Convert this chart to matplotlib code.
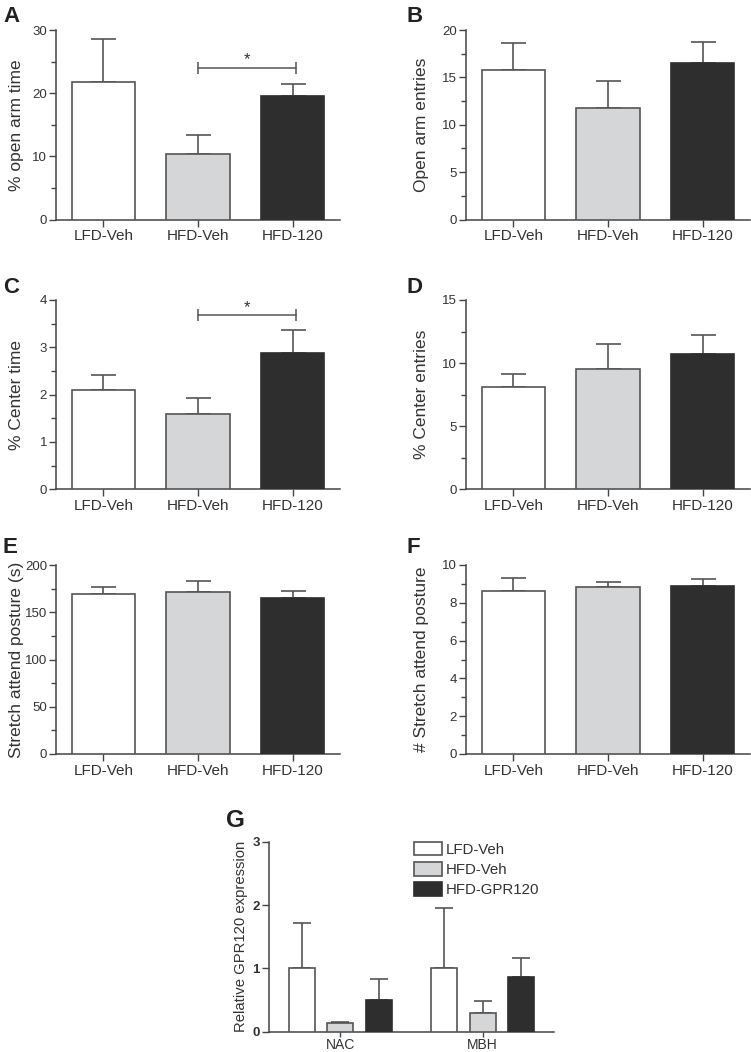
import matplotlib
matplotlib.use('Agg')
import matplotlib.pyplot as plt
from matplotlib.ticker import MultipleLocator
import numpy as np

plt.rcParams['font.family'] = ['Liberation Sans', 'DejaVu Sans']

# ---------------- data ----------------
groups = ['LFD-Veh', 'HFD-Veh', 'HFD-120']

a_mean = [21.8, 10.3, 19.5]
a_err = [6.8, 3.1, 1.9]

b_mean = [15.8, 11.8, 16.5]
b_err = [2.8, 2.8, 2.2]

c_mean = [2.10, 1.60, 2.88]
c_err = [0.32, 0.32, 0.49]

d_mean = [8.1, 9.5, 10.7]
d_err = [1.0, 2.0, 1.5]

e_mean = [169, 171, 165]
e_err = [8, 12, 8]

f_mean = [8.60, 8.83, 8.87]
f_err = [0.73, 0.29, 0.38]

g_regions = ['NAC', 'MBH']
g_series = ['LFD-Veh', 'HFD-Veh', 'HFD-GPR120']
g_lfd = [1.00, 1.00]
g_lfd_err = [0.72, 0.95]
g_hfd = [0.13, 0.30]
g_hfd_err = [0.02, 0.19]
g_gpr = [0.50, 0.87]
g_gpr_err = [0.34, 0.30]

# ---------------- style ----------------
W, H = 751, 1052
fills = ['#ffffff', '#d5d6d8', '#2e2e2e']
edges = ['#555555', '#555555', '#2e2e2e']
txt = '#333333'
spine_c = '#444444'
err_c = '#555555'

fig = plt.figure(figsize=(W / 100, H / 100), dpi=100)


def box(left, right, top, bottom):
    return [left / W, 1 - bottom / H, (right - left) / W, (bottom - top) / H]


def style_axes(ax, xlabsize=11, ylabsize=9.5, xlen=5, xpad=2):
    for s in ['top', 'right']:
        ax.spines[s].set_visible(False)
    for s in ['left', 'bottom']:
        ax.spines[s].set_color(spine_c)
        ax.spines[s].set_linewidth(1.1)
    ax.tick_params(axis='y', which='major', direction='out', length=5,
                   width=1.0, color=spine_c, labelcolor=txt, pad=1.5,
                   labelsize=ylabsize)
    ax.tick_params(axis='x', which='major', direction='out', length=xlen,
                   width=1.0, color=spine_c, labelcolor=txt, pad=xpad,
                   labelsize=xlabsize)
    ax.tick_params(axis='y', which='minor', direction='out', length=3.5,
                   width=1.0, color=spine_c)


def bar_panel(rect, means, errs, ymax, major, minor, ylabel, letter,
              letter_xy, label_x, sig=None):
    ax = fig.add_axes(rect)
    x = np.arange(len(groups))
    ax.bar(x, means, width=0.67, color=fills, edgecolor=edges,
           linewidth=1.2, zorder=3)
    ax.errorbar(x, means, yerr=[[0] * len(errs), errs], fmt='none',
                ecolor=err_c, elinewidth=1.2, capsize=9, capthick=1.2,
                zorder=2)
    ax.set_xlim(-0.5, 2.5)
    ax.set_ylim(0, ymax)
    ax.set_xticks(x)
    ax.set_xticklabels(groups)
    ax.yaxis.set_major_locator(MultipleLocator(major))
    ax.yaxis.set_minor_locator(MultipleLocator(minor))
    style_axes(ax)
    ax.set_ylabel(ylabel, fontsize=12.5, color=txt)
    ax.yaxis.set_label_coords(label_x, 0.5)
    if sig is not None:
        i0, i1, yb = sig
        ax.plot([i0, i1], [yb, yb], color=err_c, lw=1.1, marker='|',
                ms=8, mew=1.1, zorder=4)
        ax.annotate('*', xy=((i0 + i1) / 2, yb), xytext=(0, 2.5),
                    textcoords='offset points', ha='center', va='baseline',
                    fontsize=12, color=txt)
    fig.text(letter_xy[0] / W, 1 - letter_xy[1] / H, letter, fontsize=16,
             fontweight='bold', color='#222222', ha='left', va='baseline')
    return ax


bar_panel(box(56, 340, 30, 219.5), a_mean, a_err, 30, 10, 5,
          '% open arm time', 'A', (3, 22), -0.112, sig=(1, 2.03, 24.0))
bar_panel(box(466, 750, 30, 219.5), b_mean, b_err, 20, 5, 2.5,
          'Open arm entries', 'B', (406, 22), -0.130)
bar_panel(box(56, 340, 300, 489.3), c_mean, c_err, 4, 1, 0.5,
          '% Center time', 'C', (3, 293), -0.112, sig=(1, 2.03, 3.68))
bar_panel(box(466, 750, 300, 489.3), d_mean, d_err, 15, 5, 2.5,
          '% Center entries', 'D', (406, 293), -0.130)
bar_panel(box(56, 340, 565, 754), e_mean, e_err, 200, 50, 25,
          'Stretch attend posture (s)', 'E', (3, 553), -0.112)
bar_panel(box(466, 750, 565, 754), f_mean, f_err, 10, 2, 1,
          '# Stretch attend posture', 'F', (406, 553), -0.130)

# ---------------- panel G ----------------
axg = fig.add_axes(box(269, 554, 842, 1031.7))
xg = np.arange(len(g_regions))
offs = [-0.27, 0.0, 0.27]
vals = [g_lfd, g_hfd, g_gpr]
errs = [g_lfd_err, g_hfd_err, g_gpr_err]
for k in range(3):
    axg.bar(xg + offs[k], vals[k], width=0.18, color=fills[k],
            edgecolor=edges[k], linewidth=1.2, zorder=3, label=g_series[k])
    axg.errorbar(xg + offs[k], vals[k], yerr=[[0, 0], errs[k]], fmt='none',
                 ecolor=err_c, elinewidth=1.2, capsize=6.5, capthick=1.2,
                 zorder=2)
axg.set_xlim(-0.5, 1.5)
axg.set_ylim(0, 3)
axg.set_xticks(xg)
axg.set_xticklabels(g_regions)
axg.yaxis.set_major_locator(MultipleLocator(1))
style_axes(axg, xlabsize=10, ylabsize=9.5, xlen=3.5, xpad=1)
for t in axg.get_yticklabels():
    t.set_fontweight('bold')
axg.set_ylabel('Relative GPR120 expression', fontsize=10.7, color=txt)
axg.yaxis.set_label_coords(-0.072, 0.5)
leg = axg.legend(loc='upper left', bbox_to_anchor=(0.508, 1.0),
                 frameon=False, fontsize=10.8, handlelength=1.9,
                 handleheight=1.0, handletextpad=0.25, labelspacing=0.35,
                 borderpad=0, borderaxespad=0)
for t in leg.get_texts():
    t.set_color(txt)
fig.text(226 / W, 1 - 827 / H, 'G', fontsize=17.5, fontweight='bold',
         color='#222222', ha='left', va='baseline')

fig.savefig('out.png', dpi=100)
